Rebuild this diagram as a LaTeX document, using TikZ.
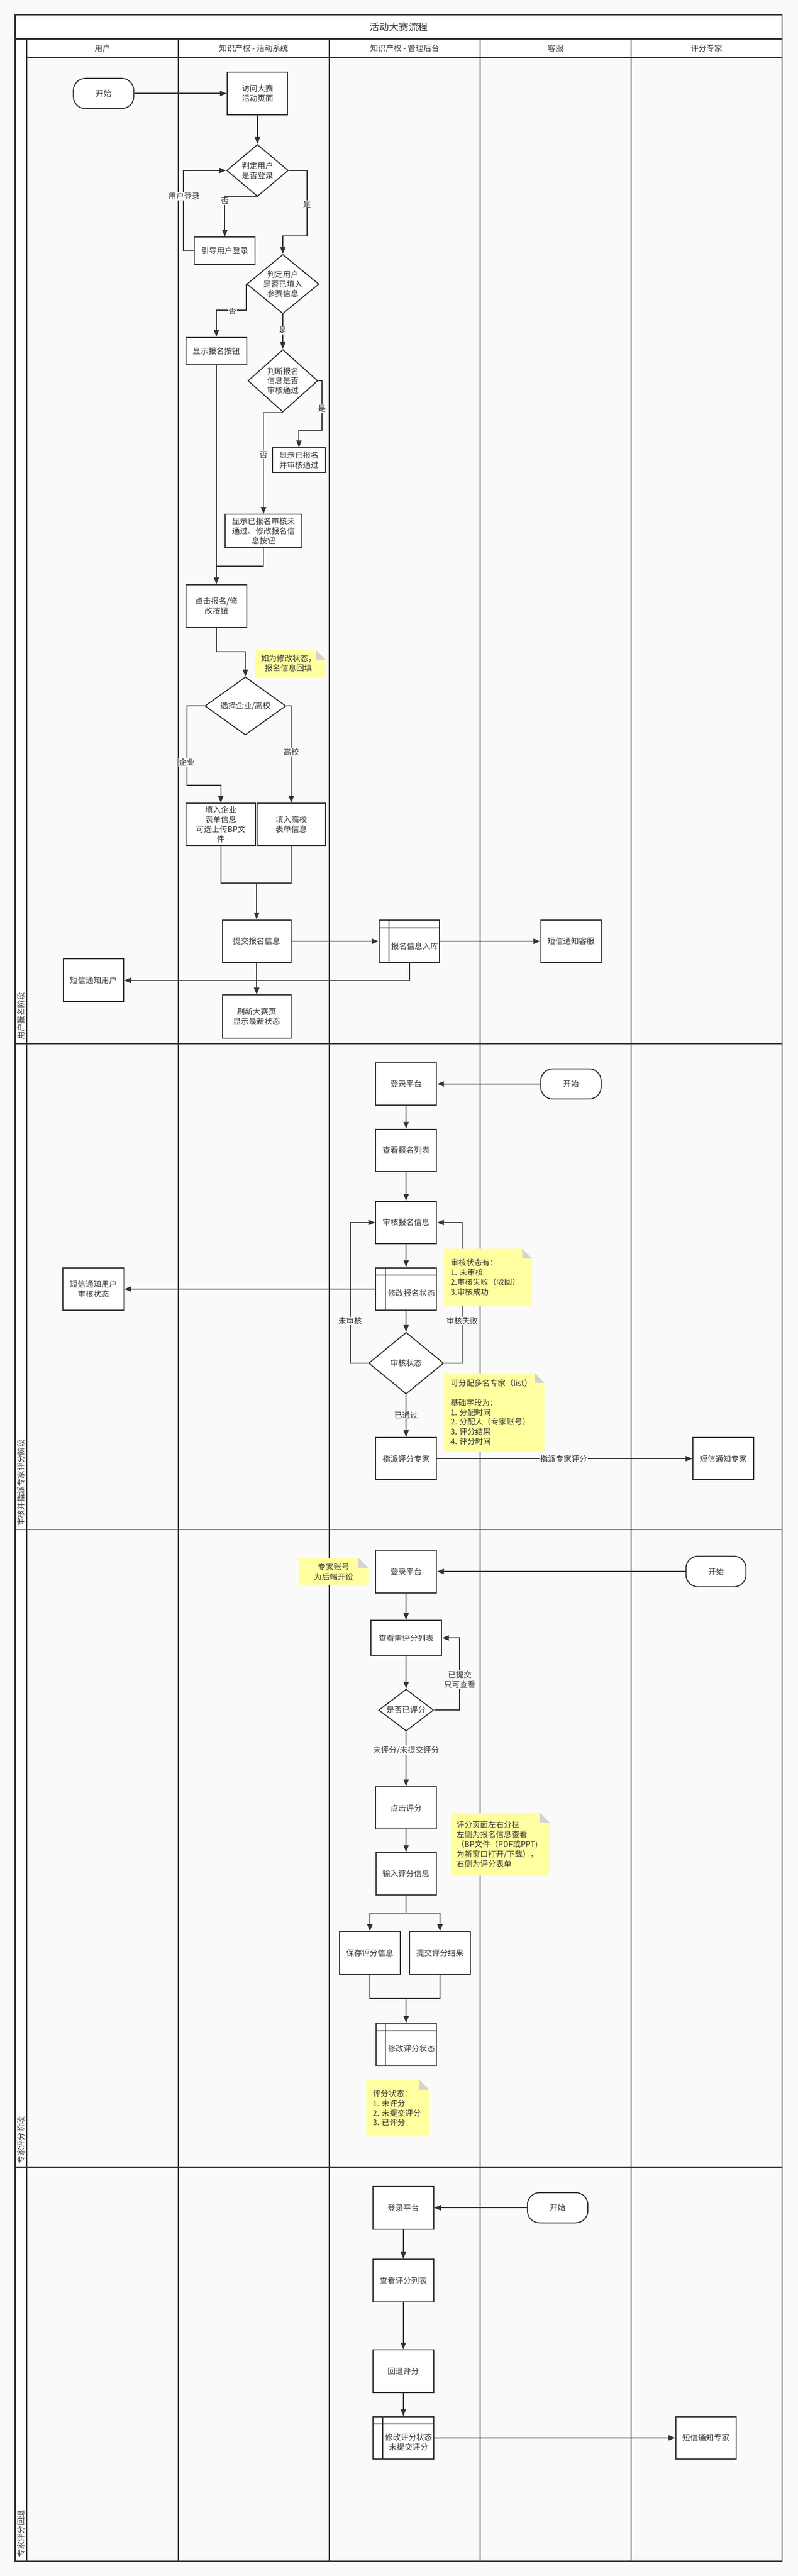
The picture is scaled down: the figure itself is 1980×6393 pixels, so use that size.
\documentclass[tikz,border=0pt]{standalone}
\usepackage{fontspec}
\setmainfont{Noto Sans CJK SC}
\usetikzlibrary{arrows.meta,shapes.geometric,calc}
\definecolor{lc}{HTML}{333333}
\definecolor{bgc}{HTML}{FAFAFA}
\definecolor{notec}{HTML}{FFFFA0}
\definecolor{foldc}{HTML}{D3D3D3}
\newcommand\fs{\fontsize{19.5}{24}\selectfont}
\newcommand\drawnote[4]{%
  \fill[notec] (#1,#2) -- (#3-24,#2) -- (#3,#2+24) -- (#3,#4) -- (#1,#4) -- cycle;
  \fill[foldc] (#3-24,#2) -- (#3-24,#2+24) -- (#3,#2+24) -- cycle;}
\begin{document}
\begin{tikzpicture}[x=1pt,y=-1pt,
  box/.style={draw=lc, line width=2.5pt, fill=white, inner sep=0pt, align=center, font=\fs, text=lc},
  term/.style={box, rounded corners=30pt, minimum width=150pt, minimum height=75pt},
  dia/.style={draw=lc, line width=2.5pt, fill=white, diamond, inner sep=0pt},
  txt/.style={inner sep=0pt, align=center, font=\fs, text=lc},
  ntxt/.style={inner sep=0pt, align=left, font=\fs, text=lc},
  ln/.style={draw=lc, line width=2.5pt},
  arr/.style={ln, -{Triangle[length=17pt,width=13pt]}},
  elab/.style={fill=bgc, inner sep=1.5pt, font=\fs, text=lc, align=center},
  lanel/.style={draw=lc, line width=2.5pt},
  heavy/.style={draw=lc, line width=3.5pt},
  lanetxt/.style={inner sep=0pt, font=\fs, text=lc, rotate=90, anchor=west}
]
\useasboundingbox (0,0) rectangle (1980,6393);
\fill[bgc] (0,0) rectangle (1980,6393);
% ---------- swimlane frame ----------
\fill[white] (38,37) rectangle (1941,97);
\fill[white] (67,97) rectangle (1941,143);
\fill[white] (38,97) rectangle (67,6356);
\draw[lanel] (67,97) -- (67,6356);
\foreach \xx in {442,817,1192,1566} \draw[lanel] (\xx,97) -- (\xx,6356);
\draw[heavy] (38,97) -- (1941,97);
\draw[heavy] (67,143) -- (1941,143);
\foreach \yy in {2590,3796,5378} \draw[heavy] (38,\yy) -- (1941,\yy);
\draw[heavy] (38,37) rectangle (1941,6356);
\node[txt, font=\fontsize{24}{29}\selectfont] (title) at (990,67) {活动大赛流程};
\node[txt] (h1) at (254.5,120) {用户};
\node[txt] (h2) at (629.5,120) {知识产权 - 活动系统};
\node[txt] (h3) at (1004.5,120) {知识产权 - 管理后台};
\node[txt] (h4) at (1379,120) {客服};
\node[txt] (h5) at (1753.5,120) {评分专家};
\node[lanetxt] (lane1) at (52.5,2580) {用户报名阶段};
\node[lanetxt] (lane2) at (52.5,3787) {审核并指派专家评分阶段};
\node[lanetxt] (lane3) at (52.5,5370) {专家评分阶段};
\node[lanetxt] (lane4) at (52.5,6347) {专家评分回退};

% ---------- section 1 ----------
\node[term] (s1) at (257,232) {开始};
\node[box, minimum width=150pt, minimum height=106pt] (n1) at (639,232) {访问大赛\\活动页面};
\node[dia, minimum width=153pt, minimum height=129pt] (d1) at (639,423) {};
\node[txt] (d1t) at (639,423) {判定用户\\是否登录};
\node[box, minimum width=151pt, minimum height=67pt] (n2) at (558,622) {引导用户登录};
\node[dia, minimum width=179pt, minimum height=147pt] (d2) at (702,705) {};
\node[txt] (d2t) at (702,705) {判定用户\\是否已填入\\参赛信息};
\node[box, minimum width=151pt, minimum height=68pt] (n3) at (537,871) {显示报名按钮};
\node[dia, minimum width=173pt, minimum height=155pt] (d3) at (702,945) {};
\node[txt] (d3t) at (702,945) {判断报名\\信息是否\\审核通过};
\node[box, minimum width=132pt, minimum height=61pt] (n4) at (742,1142) {显示已报名\\并审核通过};
\node[box, minimum width=190pt, minimum height=83pt] (n5) at (654,1318) {显示已报名审核未\\通过、修改报名信\\息按钮};
\node[box, minimum width=151pt, minimum height=106pt] (n6) at (537,1504) {点击报名/修\\改按钮};
\node[dia, minimum width=201pt, minimum height=144pt] (d4) at (609,1752) {};
\node[txt] (d4t) at (609,1752) {选择企业/高校};
\node[box, minimum width=172pt, minimum height=105pt] (n7) at (548,2046) {填入企业\\表单信息\\可选上传BP文\\件};
\node[box, minimum width=171pt, minimum height=105pt] (n8) at (723,2046) {填入高校\\表单信息};
\node[box, minimum width=170pt, minimum height=106pt] (n9) at (637,2336) {提交报名信息};
\node[box, minimum width=150pt, minimum height=106pt] (n10) at (1016,2336) {};
\draw[ln] ([xshift=25pt]n10.north west) -- ([xshift=25pt]n10.south west);
\draw[ln] ([yshift=-21pt]n10.north west) -- ([yshift=-21pt]n10.north east);
\node[txt] (n10t) at (1029,2348) {报名信息入库};
\node[box, minimum width=150pt, minimum height=106pt] (n11) at (1417,2336) {短信通知客服};
\node[box, minimum width=149pt, minimum height=106pt] (n12) at (232,2433) {短信通知用户};
\node[box, minimum width=170pt, minimum height=107pt] (n13) at (637,2523) {刷新大赛页\\显示最新状态};

\coordinate (c1) at (762,586);
\coordinate (c2) at (537,770);
\coordinate (c3) at (799,1068);
\coordinate (j1) at (537,1405);
\coordinate (c4) at (609,1618);
\coordinate (c5) at (464,1948);
\coordinate (j2) at (637,2191);
\draw[arr] (s1.east) -- (n1.west);
\draw[arr] (n1.south) -- (d1.north);
\draw[arr] (d1.south) -| (n2.north);
\draw[arr] (n2.west) -- ++(-26,0) |- (d1.west);
\draw[arr] (d1.east) -| (c1) -| (d2.north);
\draw[arr] (d2.west) |- (c2) -- (n3.north);
\draw[arr] (d2.south) -- (d3.north);
\draw[arr] (d3.east) -| (c3) -| (n4.north);
\draw[arr] (d3.south) -| (n5.north);
\draw[arr] (n3.south) -- (n6.north);
\draw[ln] (n5.south) |- (j1);
\draw[arr] (n6.south) |- (c4) -- (d4.north);
\draw[arr] (d4.west) -| (c5) -| (n7.north);
\draw[arr] (d4.east) -| (n8.north);
\draw[ln] (n7.south) |- (j2);
\draw[ln] (n8.south) |- (j2);
\draw[arr] (j2) -- (n9.north);
\draw[arr] (n9.east) -- (n10.west);
\draw[arr] (n10.east) -- (n11.west);
\draw[arr] (n10.south) |- (n12.east);
\draw[arr] (n9.south) -- (n13.north);
\node[elab] (l1) at (457,487) {用户登录};
\node[elab] (l2) at (558,499) {否};
\node[elab] (l3) at (762,507) {是};
\node[elab] (l4) at (577,772) {否};
\node[elab] (l5) at (702,820) {是};
\node[elab] (l6) at (799,1014) {是};
\node[elab] (l7) at (654,1129) {否};
\node[elab] (l8) at (464,1892) {企业};
\node[elab] (l9) at (723,1866) {高校};
\drawnote{634}{1613}{808}{1680}
\node[txt] (nt1) at (716,1646) {如为修改状态，\\报名信息回填};

% ---------- section 2 ----------
\node[term] (s2) at (1417,2690) {开始};
\node[box, minimum width=151pt, minimum height=104pt] (m1) at (1008,2690) {登录平台};
\node[box, minimum width=151pt, minimum height=105pt] (m2) at (1008,2855) {查看报名列表};
\node[box, minimum width=151pt, minimum height=105pt] (m3) at (1008,3034) {审核报名信息};
\node[box, minimum width=151pt, minimum height=106pt] (m4) at (1008,3199) {};
\draw[ln] ([xshift=25pt]m4.north west) -- ([xshift=25pt]m4.south west);
\draw[ln] ([yshift=-20pt]m4.north west) -- ([yshift=-20pt]m4.north east);
\node[txt] (m4t) at (1021,3209) {修改报名状态};
\node[dia, minimum width=186pt, minimum height=153pt] (d5) at (1008,3383) {};
\node[txt] (d5t) at (1008,3383) {审核状态};
\node[box, minimum width=151pt, minimum height=105pt] (m5) at (1008,3620) {指派评分专家};
\node[box, minimum width=151pt, minimum height=106pt] (m6) at (232,3199) {短信通知用户\\审核状态};
\node[box, minimum width=151pt, minimum height=105pt] (m7) at (1795,3620) {短信通知专家};
\coordinate (c6) at (869,3034);
\coordinate (c7) at (1147,3034);
\draw[arr] (s2.west) -- (m1.east);
\draw[arr] (m1.south) -- (m2.north);
\draw[arr] (m2.south) -- (m3.north);
\draw[arr] (m3.south) -- (m4.north);
\draw[arr] (m4.south) -- (d5.north);
\draw[arr] (d5.west) -| (c6) -- (m3.west);
\draw[arr] (d5.east) -| (c7) -- (m3.east);
\draw[arr] (d5.south) -- (m5.north);
\draw[arr] (m5.east) -- (m7.west);
\draw[arr] (m4.west) -- (m6.east);
\node[elab] (l10) at (869,3278) {未审核};
\node[elab] (l11) at (1147,3278) {审核失败};
\node[elab] (l12) at (1008,3512) {已通过};
\node[elab] (l13) at (1399,3620) {指派专家评分};
\drawnote{1102}{3099}{1320}{3240}
\node[ntxt, anchor=west] (nt2) at (1118,3170) {审核状态有：\\1. 未审核\\2.审核失败（驳回）\\3.审核成功};
\drawnote{1102}{3408}{1351}{3603}
\node[ntxt, anchor=west] (nt3) at (1118,3505) {可分配多名专家（list）\\[24pt]基础字段为：\\1. 分配时间\\2. 分配人（专家账号）\\3. 评分结果\\4. 评分时间};

% ---------- section 3 ----------
\node[term, minimum width=149pt, minimum height=76pt] (s3) at (1777,3900) {开始};
\node[box, minimum width=151pt, minimum height=106pt] (e1) at (1008,3900) {登录平台};
\node[box, minimum width=176pt, minimum height=87pt] (e2) at (1008,4065) {查看需评分列表};
\node[dia, minimum width=136pt, minimum height=104pt] (d6) at (1008,4244) {};
\node[txt] (d6t) at (1008,4244) {是否已评分};
\node[box, minimum width=151pt, minimum height=105pt] (e3) at (1008,4487) {点击评分};
\node[box, minimum width=150pt, minimum height=105pt] (e4) at (1008,4650) {输入评分信息};
\node[box, minimum width=151pt, minimum height=106pt] (e5) at (918,4847) {保存评分信息};
\node[box, minimum width=151pt, minimum height=106pt] (e6) at (1092,4847) {提交评分结果};
\node[box, minimum width=150pt, minimum height=105pt] (e7) at (1008,5074) {};
\draw[ln] ([xshift=25pt]e7.north west) -- ([xshift=25pt]e7.south west);
\draw[ln] ([yshift=-20pt]e7.north west) -- ([yshift=-20pt]e7.north east);
\node[txt] (e7t) at (1021,5084) {修改评分状态};
\coordinate (c8) at (1141,4065);
\coordinate (j3) at (1008,4748);
\coordinate (j4) at (1008,4960);
\draw[arr] (s3.west) -- (e1.east);
\draw[arr] (e1.south) -- (e2.north);
\draw[arr] (e2.south) -- (d6.north);
\draw[arr] (d6.east) -| (c8) -- (e2.east);
\draw[arr] (d6.south) -- (e3.north);
\draw[arr] (e3.south) -- (e4.north);
\draw[ln] (e4.south) -- (j3);
\draw[arr] (j3) -| (e5.north);
\draw[arr] (j3) -| (e6.north);
\draw[ln] (e5.south) |- (j4);
\draw[ln] (e6.south) |- (j4);
\draw[arr] (j4) -- (e7.north);
\node[elab] (l14) at (1141,4168) {已提交\\只可查看};
\node[elab] (l15) at (1008,4344) {未评分/未提交评分};
\drawnote{741}{3867}{914}{3933}
\node[txt] (nt4) at (828,3901) {专家账号\\为后端开设};
\drawnote{1119}{4499}{1364}{4655}
\node[ntxt, anchor=west] (nt5) at (1133,4577) {评分页面左右分栏\\左侧为报名信息查看\\（BP文件（PDF或PPT)\\为新窗口打开/下载），\\右侧为评分表单};
\drawnote{909}{5162}{1065}{5302}
\node[ntxt, anchor=west] (nt6) at (925,5232) {评分状态：\\1. 未评分\\2. 未提交评分\\3. 已评分};

% ---------- section 4 ----------
\node[term] (s4) at (1384,5479) {开始};
\node[box, minimum width=150pt, minimum height=106pt] (f1) at (1001,5479) {登录平台};
\node[box, minimum width=150pt, minimum height=106pt] (f2) at (1001,5660) {查看评分列表};
\node[box, minimum width=150pt, minimum height=106pt] (f3) at (1001,5885) {回退评分};
\node[box, minimum width=150pt, minimum height=105pt] (f4) at (1001,6050) {};
\draw[ln] ([xshift=25pt]f4.north west) -- ([xshift=25pt]f4.south west);
\draw[ln] ([yshift=-20pt]f4.north west) -- ([yshift=-20pt]f4.north east);
\node[txt] (f4t) at (1014,6061) {修改评分状态\\未提交评分};
\node[box, minimum width=150pt, minimum height=105pt] (f5) at (1752,6050) {短信通知专家};
\draw[arr] (s4.west) -- (f1.east);
\draw[arr] (f1.south) -- (f2.north);
\draw[arr] (f2.south) -- (f3.north);
\draw[arr] (f3.south) -- (f4.north);
\draw[arr] (f4.east) -- (f5.west);
\end{tikzpicture}
\end{document}
